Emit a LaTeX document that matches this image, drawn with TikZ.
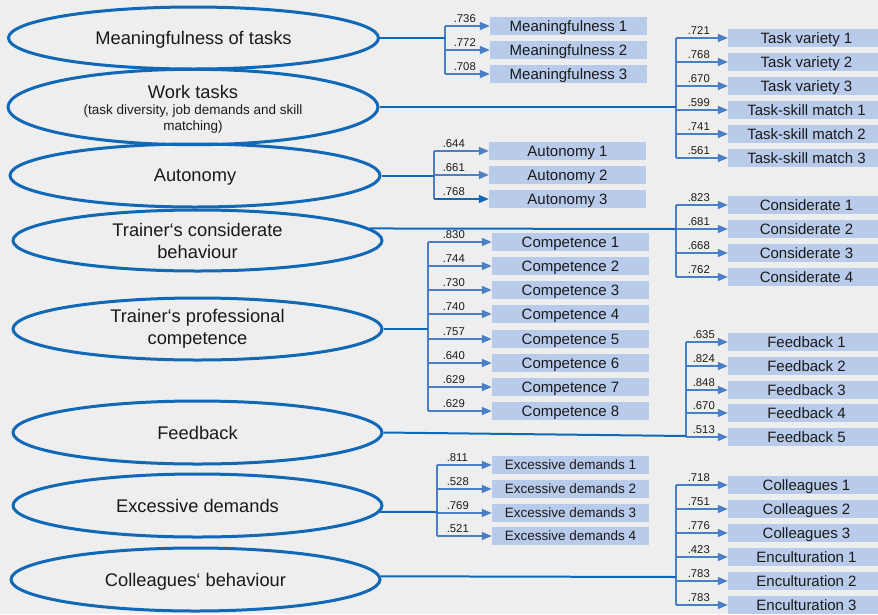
\documentclass[tikz,border=0pt]{standalone}
\usepackage{fontspec}
\setmainfont{Liberation Sans}
\usetikzlibrary{shapes.geometric,arrows.meta}
\definecolor{bgc}{HTML}{EEEEEE}
\definecolor{ell}{HTML}{1068B6}
\definecolor{brc}{HTML}{4A7FC6}
\definecolor{boxc}{HTML}{B8CBEA}
\definecolor{txt}{HTML}{1A1A1A}
\begin{document}
\begin{tikzpicture}[x=1pt,y=-1pt,
 lat/.style={ellipse, draw=ell, line width=3pt, inner sep=0pt, text=txt,
   font=\fontsize{18.3}{22}\selectfont, align=center},
 latone/.style={lat, text depth=0pt},
 ind/.style={fill=boxc, minimum width=157pt, minimum height=18pt, inner sep=0pt,
   text height=10.7pt, text depth=0pt, font=\fontsize{15}{18}\selectfont, text=txt},
 inds/.style={ind, font=\fontsize{13.5}{16}\selectfont, text height=9.7pt},
 conn/.style={draw=ell, line width=2pt},
 br/.style={draw=brc, line width=1.6pt},
 arr/.style={br, -{Triangle[length=10pt,width=8pt]}},
 ld/.style={font=\fontsize{11.3}{13}\selectfont, text=txt, inner sep=0pt, anchor=base west},
]
\useasboundingbox (0,0) rectangle (878,614);
\fill[bgc] (0,0) rectangle (878,614);
\clip (0,0) rectangle (878,614);

% latent variables
\node[latone, minimum width=370pt, minimum height=62pt] (mt) at (193.5,38) {Meaningfulness of tasks};
\node[lat, minimum width=370pt, minimum height=61pt] (wt) at (193,107)
  {\rule{0pt}{18pt}Work tasks\\[-6pt]{\fontsize{13.5}{16}\selectfont (task diversity, job demands and skill}\\[-5.5pt]{\fontsize{13.5}{16}\selectfont matching)}};
\node[latone, minimum width=370pt, minimum height=63pt] (au) at (195,175.5) {Autonomy};
\node[lat, minimum width=369pt, minimum height=61pt] (tc) at (197.5,240.5) {Trainer‘s considerate\\behaviour};
\node[lat, minimum width=369pt, minimum height=62pt] (tp) at (197.5,329) {Trainer‘s professional\\competence};
\node[latone, minimum width=369pt, minimum height=63pt] (fb) at (197.5,432.5) {Feedback};
\node[latone, minimum width=369pt, minimum height=63pt] (ed) at (197.5,505.5) {Excessive demands};
\node[latone, minimum width=369pt, minimum height=63pt] (cb) at (195.5,579.5) {Colleagues‘ behaviour};

% junctions
\coordinate (jm) at (445,38);
\coordinate (jw) at (676,107);
\coordinate (ja) at (434,175.5);
\coordinate (jc) at (676,229);
\coordinate (jp) at (428,329);
\coordinate (jf) at (686,436);
\coordinate (je) at (437,512);
\coordinate (jl) at (676,577);

% Meaningfulness
\foreach \t/\l/\y [count=\i] in {Meaningfulness 1/.736/26, Meaningfulness 2/.772/50, Meaningfulness 3/.708/74}{
  \node[ind] (m\i) at (568.5,\y) {\t};
  \draw[arr] (jm |- m\i.west) -- (m\i.west) node[ld, at start, xshift=8pt, yshift=3.5pt] {\l};
}
\draw[br] (jm |- m1.west) -- (jm |- m3.west);
\draw[conn] (mt.east) -- (jm);

% Work tasks
\foreach \t/\l/\y [count=\i] in {Task variety 1/.721/38, Task variety 2/.768/62, Task variety 3/.670/86,
  Task-skill match 1/.599/110, Task-skill match 2/.741/134, Task-skill match 3/.561/158}{
  \node[ind] (w\i) at (806.5,\y) {\t};
  \draw[arr] (jw |- w\i.west) -- (w\i.west) node[ld, at start, xshift=11pt, yshift=3.5pt] {\l};
}
\draw[br] (jw |- w1.west) -- (jw |- w6.west);
\draw[conn] (wt.east) -- (jw);

% Autonomy
\foreach \t/\l/\y/\c [count=\i] in {Autonomy 1/.644/151/brc, Autonomy 2/.661/175/brc, Autonomy 3/.768/199/ell}{
  \node[ind] (a\i) at (567.5,\y) {\t};
  \draw[arr, draw=\c, fill=\c] (ja |- a\i.west) -- (a\i.west) node[ld, at start, xshift=8pt, yshift=3.5pt] {\l};
}
\draw[br] (ja |- a1.west) -- (ja |- a3.west);
\draw[conn] (au.east) -- (ja);

% Considerate
\foreach \t/\l/\y [count=\i] in {Considerate 1/.823/205, Considerate 2/.681/229, Considerate 3/.668/253, Considerate 4/.762/277}{
  \node[ind] (c\i) at (806.5,\y) {\t};
  \draw[arr] (jc |- c\i.west) -- (c\i.west) node[ld, at start, xshift=11pt, yshift=3.5pt] {\l};
}
\draw[br] (jc |- c1.west) -- (jc |- c4.west);
\draw[conn] (tc.4) -- (jc);

% Professional competence
\foreach \t/\l/\y [count=\i] in {Competence 1/.830/242, Competence 2/.744/266, Competence 3/.730/290, Competence 4/.740/314,
  Competence 5/.757/339, Competence 6/.640/363, Competence 7/.629/387, Competence 8/.629/411}{
  \node[ind] (p\i) at (570.5,\y) {\t};
  \draw[arr] (jp |- p\i.west) -- (p\i.west) node[ld, at start, xshift=14pt, yshift=3.5pt] {\l};
}
\draw[br] (jp |- p1.west) -- (jp |- p8.west);
\draw[conn] (tp.east) -- (jp);

% Feedback
\foreach \t/\l/\y [count=\i] in {Feedback 1/.635/342, Feedback 2/.824/366, Feedback 3/.848/390, Feedback 4/.670/413, Feedback 5/.513/437}{
  \node[ind] (f\i) at (806.5,\y) {\t};
  \draw[arr] (jf |- f\i.west) -- (f\i.west) node[ld, at start, xshift=6pt, yshift=3.5pt] {\l};
}
\draw[br] (jf |- f1.west) -- (jf |- f5.west);
\draw[conn] (fb.east) -- (jf);

% Excessive demands
\foreach \t/\l/\y [count=\i] in {Excessive demands 1/.811/465, Excessive demands 2/.528/489, Excessive demands 3/.769/513, Excessive demands 4/.521/536}{
  \node[inds] (e\i) at (570.5,\y) {\t};
  \draw[arr] (je |- e\i.west) -- (e\i.west) node[ld, at start, xshift=9pt, yshift=3.5pt] {\l};
}
\draw[br] (je |- e1.west) -- (je |- e4.west);
\draw[conn] (ed.-2) -- (je);

% Colleagues
\foreach \t/\l/\y [count=\i] in {Colleagues 1/.718/485, Colleagues 2/.751/509, Colleagues 3/.776/533,
  Enculturation 1/.423/557, Enculturation 2/.783/581, Enculturation 3/.783/605}{
  \node[ind] (l\i) at (806.5,\y) {\t};
  \draw[arr] (jl |- l\i.west) -- (l\i.west) node[ld, at start, xshift=11pt, yshift=3.5pt] {\l};
}
\draw[br] (jl |- l1.west) -- (jl |- l6.west);
\draw[conn] (cb.1) -- (jl);
\end{tikzpicture}
\end{document}
